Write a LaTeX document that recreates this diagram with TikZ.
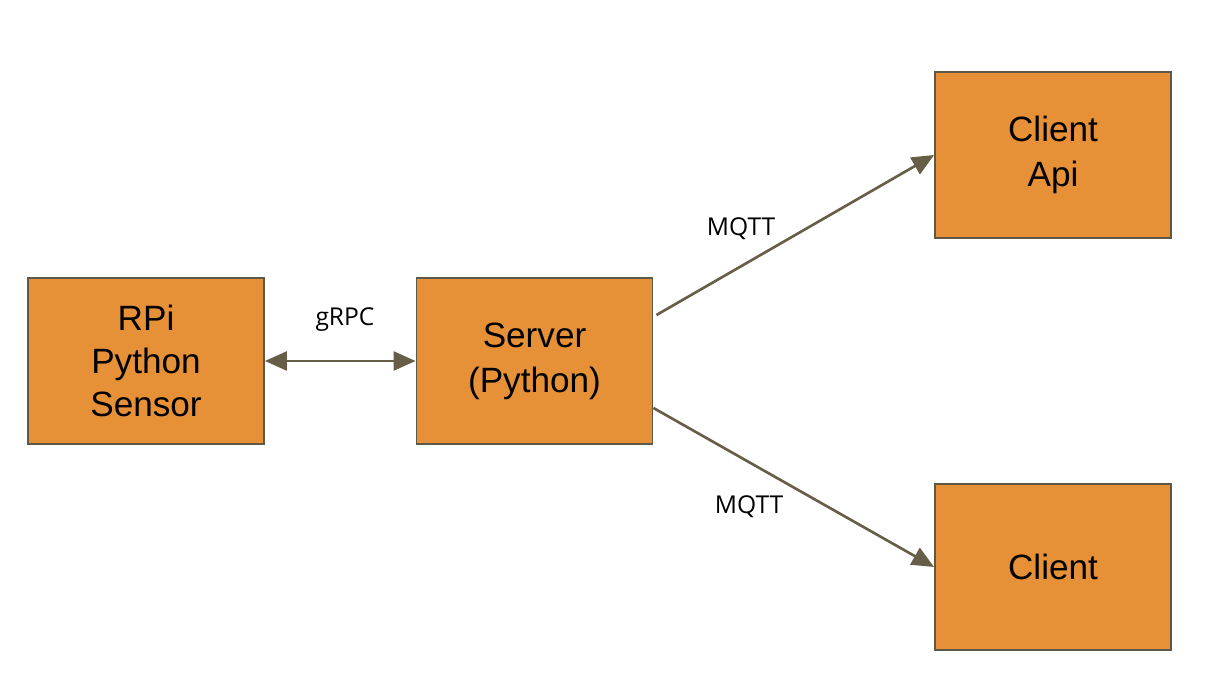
\documentclass[tikz,border=0pt]{standalone}
\usepackage{fontspec}
\setmainfont{Liberation Sans}
\newfontfamily\labelfont{Open Sans}
\usetikzlibrary{arrows.meta}
\definecolor{boxfill}{HTML}{E69138}
\definecolor{boxline}{HTML}{5E5848}
\definecolor{linkline}{HTML}{675E48}
\begin{document}
\begin{tikzpicture}[
   x=0.02cm, y=-0.02cm,
   box/.style={draw=boxline, line width=1.1pt, fill=boxfill,
               minimum width=4.72cm, minimum height=3.32cm,
               align=center, font=\fontsize{20}{24.5}\selectfont},
   link/.style={draw=linkline, line width=1.5pt,
                -{Triangle[length=0.44cm,width=0.38cm]}},
   twolink/.style={link, {Triangle[length=0.44cm,width=0.38cm]}-{Triangle[length=0.44cm,width=0.38cm]}},
   tag/.style={font=\labelfont\fontsize{14}{16}\selectfont}]

\useasboundingbox (0,0) rectangle (1212,688);

\node[box] (rpi) at (146,361) {RPi\\Python\\Sensor};
\node[box] (srv) at (534.5,361) {Server\\[1pt](Python)};
\node[box] (api) at (1053,155) {Client\\[1pt]Api};
\node[box] (cli) at (1053,567) {Client};

\draw[twolink] (rpi.east) -- (srv.west);
\draw[link] ([xshift=0.06cm,yshift=0.92cm]srv.east) -- (api.west);
\draw[link] ([yshift=-0.94cm]srv.east) -- (cli.west);

\node[tag] (grpc) at (345,320) {gRPC};
\node[tag] (mqtt1) at (741,229) {MQTT};
\node[tag] (mqtt2) at (749,507) {MQTT};

\end{tikzpicture}
\end{document}
